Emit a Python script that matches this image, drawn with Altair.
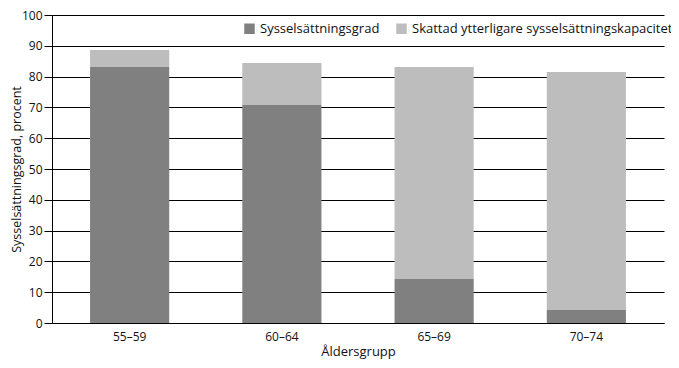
import altair as alt
import pandas as pd

groups = ["55–59", "60–64", "65–69", "70–74"]
employment = [83.1, 70.8, 14.3, 4.2]
extra = [5.5, 13.6, 68.8, 77.3]
series = ["Sysselsättningsgrad", "Skattad ytterligare sysselsättningskapacitet"]
colors = ["#808080", "#bdbdbd"]
y_ticks = [0, 10, 20, 30, 40, 50, 60, 70, 80, 90, 100]

rows = []
for g, e, x in zip(groups, employment, extra):
    rows.append({"grupp": g, "serie": series[0], "värde": e, "ord": 0})
    rows.append({"grupp": g, "serie": series[1], "värde": x, "ord": 1})
df = pd.DataFrame(rows)

FONT = "Open Sans"

chart = alt.Chart(df).mark_bar().encode(
    x=alt.X("grupp:N", sort=groups, title="Åldersgrupp",
            scale=alt.Scale(paddingInner=0.48, paddingOuter=0.25),
            axis=alt.Axis(labelAngle=0, ticks=False, labelPadding=8, titlePadding=3,
                          domainColor="black", titleFontSize=13)),
    y=alt.Y("värde:Q", stack="zero", title="Sysselsättningsgrad, procent",
            scale=alt.Scale(domain=[0, 100]),
            axis=alt.Axis(values=y_ticks, grid=True, gridColor="black", gridOpacity=1,
                          tickColor="black", tickSize=8, domainColor="black",
                          labelPadding=2, titleX=-29, titleBaseline="bottom",
                          titleFontSize=12.5)),
    color=alt.Color("serie:N", scale=alt.Scale(domain=series, range=colors),
                    legend=alt.Legend(title=None, orient="none", direction="horizontal",
                                      legendX=191, legendY=7, symbolType="square",
                                      symbolSize=110, symbolStrokeWidth=0,
                                      labelFontSize=13, columnPadding=15, labelOffset=4,
                                      labelLimit=0)),
    order=alt.Order("ord:Q"),
).properties(
    width=612, height=308,
    autosize=alt.AutoSizeParams(type="none"),
    padding={"left": 44, "top": 7, "right": 7, "bottom": 37},
).configure_view(stroke=None).configure_axis(
    labelFont=FONT, titleFont=FONT, labelFontSize=12,
    labelColor="#111", titleColor="#111", titleFontWeight="normal"
).configure_legend(labelFont=FONT, labelColor="#111")

chart.save("out.html", embed_options={"renderer": "svg", "actions": False})
